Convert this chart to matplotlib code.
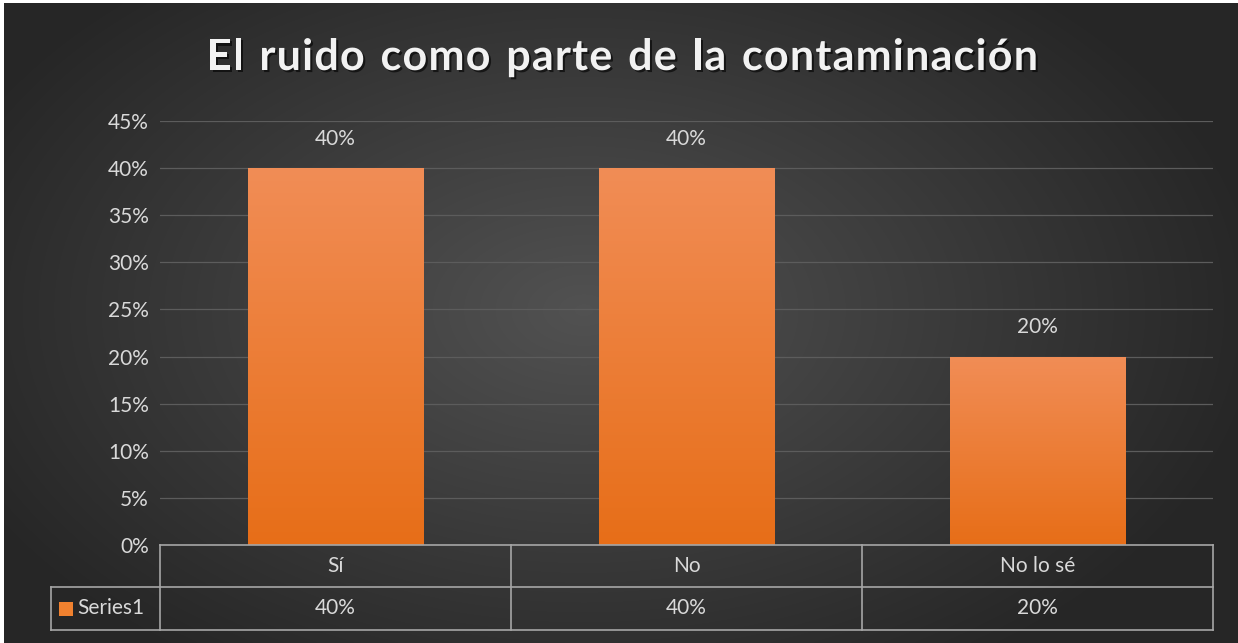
import numpy as np
import matplotlib
matplotlib.use('Agg')
import matplotlib.pyplot as plt
import matplotlib.patheffects as pe
from matplotlib.transforms import blended_transform_factory
from matplotlib.patches import Rectangle

categories = ['Sí', 'No', 'No lo sé']
values = [0.40, 0.40, 0.20]
series_name = 'Series1'
title = 'El ruido como parte de la contaminación'
yticks = [0, 0.05, 0.10, 0.15, 0.20, 0.25, 0.30, 0.35, 0.40, 0.45]

W, H = 1238, 643
plt.rcParams['font.family'] = ['Lato', 'DejaVu Sans']
txt = '#d9d9d9'
fs = 15

fig = plt.figure(figsize=(W / 100, H / 100), dpi=100)
fig.patch.set_facecolor('white')

# radial dark background
bg = fig.add_axes([4 / W, 0, (W - 4) / W, (H - 3) / H])
bg.set_axis_off()
yy, xx = np.mgrid[0:1:300j, 0:1:600j]
r = np.sqrt(((xx - 0.47) / 0.62) ** 2 + ((yy - 0.48) / 0.75) ** 2)
shade = np.clip(0.32 - 0.19 * r, 0.15, 0.32)
bg.imshow(np.dstack([shade] * 3), aspect='auto', extent=[0, 1, 0, 1], interpolation='bicubic')

ax = fig.add_axes([160 / W, (H - 545) / H, 1053 / W, 424 / H])
ax.set_facecolor('none')
ax.set_yticks(yticks)
ax.set_yticklabels([f'{int(round(t * 100))}%' for t in yticks])
ax.tick_params(axis='y', length=0, pad=8, labelsize=fs, labelcolor=txt)
ax.set_xticks([])
for s in ax.spines.values():
    s.set_visible(False)
ax.grid(axis='y', color='#5c5c5c', linewidth=0.9)
ax.set_axisbelow(True)

# gradient bars
grad = np.linspace(0, 1, 256)[:, None]
top = np.array([241, 141, 86]) / 255
bot = np.array([231, 110, 24]) / 255
cols = (bot + (top - bot) * grad[:, :, None] * np.ones((1, 2, 1)))
bars = ax.bar(range(len(categories)), values, width=0.5, color='none', zorder=2)
for b, v in zip(bars, values):
    x0 = b.get_x()
    im = ax.imshow(cols, origin='lower', aspect='auto', zorder=2,
                   extent=[x0, x0 + b.get_width(), 0, v])
    im.set_clip_path(b)
    ax.annotate(f'{int(round(v * 100))}%', (b.get_x() + b.get_width() / 2, v),
                xytext=(0, 14), textcoords='offset points', ha='center', va='bottom',
                fontsize=fs, color=txt)
ax.set_xlim(-0.5, len(categories) - 0.5)
ax.set_ylim(0, 0.45)

# data table under the plot
tr = blended_transform_factory(ax.transData, ax.transAxes)
ta = ax.transAxes
lc = '#a6a6a6'
r1 = -42 / 424
r2 = -85 / 424
xl = -109 / 1053
kw = dict(color=lc, linewidth=1.2, clip_on=False)
ax.plot([0, 1], [0, 0], transform=ta, **kw)
ax.plot([xl, 1], [r1, r1], transform=ta, **kw)
ax.plot([xl, 1], [r2, r2], transform=ta, **kw)
ax.plot([xl, xl], [r1, r2], transform=ta, **kw)
for i in range(len(categories) + 1):
    ax.plot([i - 0.5, i - 0.5], [0, r2], transform=tr, **kw)
for i, (c, v) in enumerate(zip(categories, values)):
    ax.text(i, r1 / 2, c, transform=tr, ha='center', va='center', fontsize=fs, color=txt)
    ax.text(i, (r1 + r2) / 2, f'{int(round(v * 100))}%', transform=tr, ha='center',
            va='center', fontsize=fs, color=txt)
ax.add_patch(Rectangle((-101 / 1053, (r1 + r2) / 2 - 7 / 424), 14 / 1053, 14 / 424,
                       transform=ta, facecolor='#f0812f', edgecolor='none', clip_on=False))
ax.text(-83 / 1053, (r1 + r2) / 2, series_name, transform=ta, ha='left', va='center',
        fontsize=fs, color=txt)

# title with expanded letter spacing, laid out char by char
renderer = fig.canvas.get_renderer()
tkw = dict(fontsize=31, fontweight='bold', color='#f2f2f2', va='center', ha='left',
           path_effects=[pe.withSimplePatchShadow(offset=(1.5, -1.5),
                                                  shadow_rgbFace='black', alpha=0.6)])
widths = []
for ch in title:
    t = fig.text(0, 0, ch.replace(' ', 'n'), **tkw)
    w = t.get_window_extent(renderer).width
    t.remove()
    widths.append(w * 0.55 if ch == ' ' else w)
span = 1038 - 207
track = (span - sum(widths)) / (len(title) - 1)
x = 207
for ch, w in zip(title, widths):
    if ch != ' ':
        fig.text(x / W, 1 - 57 / H, ch, **tkw)
    x += w + track

fig.savefig('out.png', dpi=100, facecolor=fig.get_facecolor())
